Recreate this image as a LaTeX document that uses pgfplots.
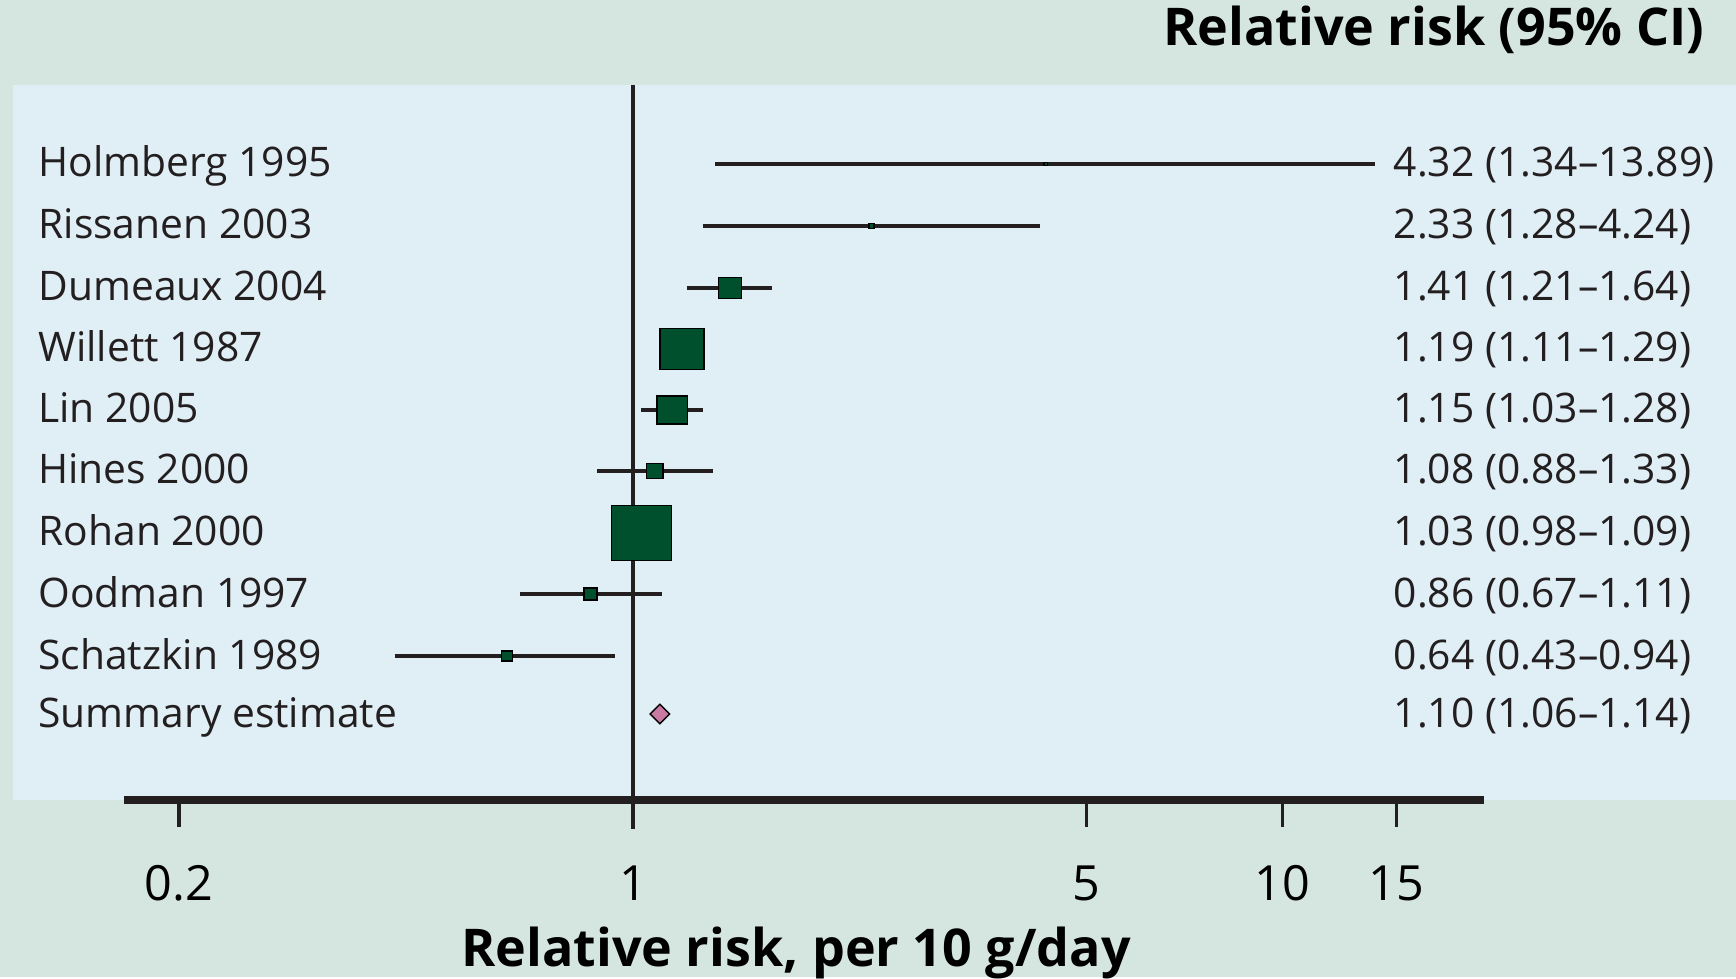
\documentclass[border=0pt]{standalone}
\usepackage{fontspec}
\setmainfont{Open Sans}
\usepackage{pgfplots}
\pgfplotsset{compat=1.18}
\definecolor{outerbg}{HTML}{D5E5DF}
\definecolor{panelbg}{HTML}{E0EEF5}
\definecolor{sqgreen}{HTML}{00502E}
\definecolor{diapink}{HTML}{C97AA3}
\definecolor{inkc}{HTML}{231F20}
\newcommand{\lab}{\fontsize{11.6}{13}\selectfont}
\newcommand{\tck}{\fontsize{13.8}{15}\selectfont}
\newcommand{\ttl}{\fontsize{14.8}{16}\selectfont\bfseries}
\begin{document}
\begin{tikzpicture}
\begin{axis}[
  width=17.36cm, height=9.77cm, scale only axis,
  xmode=log, xmin=0.1060, xmax=49.96,
  ymin=0, ymax=977, y dir=reverse,
  hide axis, clip=false, enlargelimits=false,
]
% backgrounds
\fill[outerbg] (rel axis cs:0,0) rectangle (rel axis cs:1,1);
\fill[panelbg] (axis cs:0.1110,85) rectangle (axis cs:49.96,800);
% reference line at 1
\draw[inkc, line width=0.9pt] (axis cs:1,85) -- (axis cs:1,829);
% x axis line and ticks
\draw[inkc, line width=2pt] (axis cs:0.1645,800) -- (axis cs:20.45,800);
\foreach \t in {0.2,5,10,15} {
  \edef\tmp{\noexpand\draw[inkc, line width=0.9pt] (axis cs:\t,800) -- (axis cs:\t,827);}\tmp
}
% tick labels
\node[anchor=base, inner sep=0pt, font=\tck] at (axis cs:0.2,900) {0.2};
\node[anchor=base, inner sep=0pt, font=\tck] at (axis cs:1,900) {1};
\node[anchor=base, inner sep=0pt, font=\tck] at (axis cs:5,900) {5};
\node[anchor=base, inner sep=0pt, font=\tck] at (axis cs:10,900) {10};
\node[anchor=base, inner sep=0pt, font=\tck] at (axis cs:15,900) {15};
% axis titles
\node[anchor=base, inner sep=0pt, font=\ttl] at (axis cs:1.783,966) {Relative risk, per 10 g/day};
\node[anchor=base east, inner sep=0pt, font=\ttl] at (axis cs:44.77,46) {Relative risk (95\% CI)};
% confidence intervals
\pgfplotsset{ci/.style={inkc, line width=0.95pt, no marks, forget plot}}
\addplot[ci] coordinates {(1.34,164) (13.89,164)};
\addplot[ci] coordinates {(1.28,226) (4.24,226)};
\addplot[ci] coordinates {(1.21,288) (1.64,288)};
\addplot[ci] coordinates {(1.11,349) (1.29,349)};
\addplot[ci] coordinates {(1.03,410) (1.28,410)};
\addplot[ci] coordinates {(0.88,471) (1.33,471)};
\addplot[ci] coordinates {(0.98,533) (1.09,533)};
\addplot[ci] coordinates {(0.67,594) (1.11,594)};
\addplot[ci] coordinates {(0.43,656) (0.94,656)};
% point estimates (size ~ weight)
\pgfplotsset{pe/.style={only marks, mark=square*, mark options={fill=sqgreen, draw=none, xscale=1.08}, forget plot}}
\addplot[pe, mark size=0.45pt] coordinates {(4.32,164)};
\addplot[pe, mark size=0.7pt] coordinates {(2.33,226)};
\addplot[pe, mark size=3.0pt] coordinates {(1.41,288)};
\addplot[pe, mark size=5.8pt] coordinates {(1.19,349)};
\addplot[pe, mark size=4.0pt] coordinates {(1.15,410)};
\addplot[pe, mark size=2.2pt] coordinates {(1.08,471)};
\addplot[pe, mark size=7.9pt] coordinates {(1.03,533)};
\addplot[pe, mark size=1.7pt] coordinates {(0.86,594)};
\addplot[pe, mark size=1.4pt] coordinates {(0.64,656)};
\addplot[only marks, mark=square*, mark size=1.95pt, mark options={fill=diapink, draw=none, rotate=45}, forget plot] coordinates {(1.10,714)};
% study labels
\foreach \y/\n/\r in {164/Holmberg 1995/4.32 (1.34--13.89),
                      226/Rissanen 2003/2.33 (1.28--4.24),
                      288/Dumeaux 2004/1.41 (1.21--1.64),
                      349/Willett 1987/1.19 (1.11--1.29),
                      410/Lin 2005/1.15 (1.03--1.28),
                      471/Hines 2000/1.08 (0.88--1.33),
                      533/Rohan 2000/1.03 (0.98--1.09),
                      594/Oodman 1997/0.86 (0.67--1.11),
                      656/Schatzkin 1989/0.64 (0.43--0.94),
                      714/Summary estimate/1.10 (1.06--1.14)} {
  \pgfmathsetmacro{\yb}{\y+13}
  \edef\tmp{\noexpand\node[anchor=base west, inner sep=0pt, font=\noexpand\lab, text=inkc] at (axis cs:0.1212,\yb) {\n};
            \noexpand\node[anchor=base west, inner sep=0pt, font=\noexpand\lab, text=inkc] at (axis cs:14.81,\yb) {\r};}
  \tmp
}
\end{axis}
\end{tikzpicture}
\end{document}
